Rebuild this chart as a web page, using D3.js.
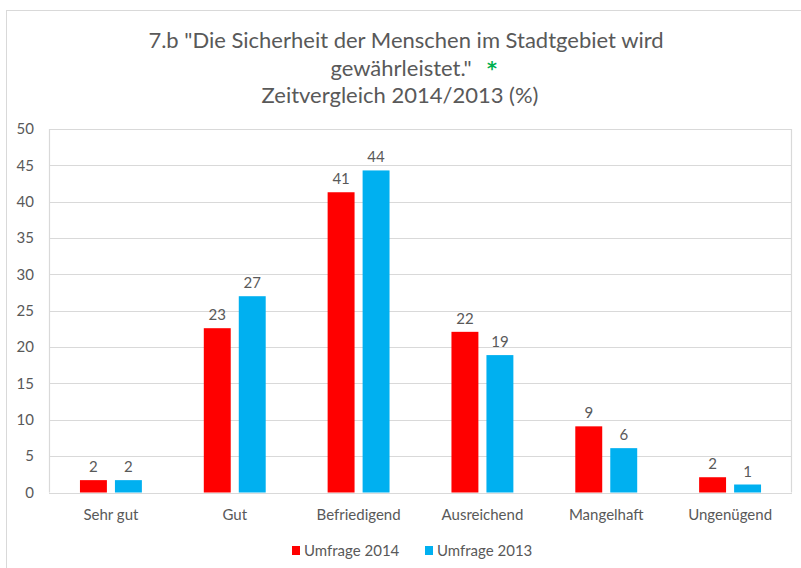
<!DOCTYPE html>
<html>
<head>
<meta charset="utf-8">
<script src="https://cdn.jsdelivr.net/npm/d3@7"></script>
<style>
  html, body { margin: 0; padding: 0; background: #fff; }
  svg { display: block; font-family: Lato, "Open Sans", sans-serif; }
</style>
</head>
<body>
<svg id="chart" width="801" height="568"></svg>
<script>
// ---- data ----
const categories = ["Sehr gut", "Gut", "Befriedigend", "Ausreichend", "Mangelhaft", "Ungenügend"];
const seriesNames = ["Umfrage 2014", "Umfrage 2013"];
const values2014 = [1.7, 22.6, 41.3, 22.1, 9.1, 2.1];
const values2013 = [1.7, 27.0, 44.3, 18.9, 6.1, 1.1];
const yTicks = [0, 5, 10, 15, 20, 25, 30, 35, 40, 45, 50];
const titleLines = ["7.b \"Die Sicherheit der Menschen im Stadtgebiet wird", "gewährleistet.\"", "Zeitvergleich 2014/2013 (%)"];

const colors = { "Umfrage 2014": "#ff0000", "Umfrage 2013": "#00b0f0" };
const seriesValues = { "Umfrage 2014": values2014, "Umfrage 2013": values2013 };
const rows = categories.map((c, i) => ({ cat: c, vals: seriesNames.map(s => ({ s, v: seriesValues[s][i] })) }));

const svg = d3.select("#chart");
const textCol = "#595959";
const gridCol = "#d9d9d9";

// chart outer border
svg.append("rect").attr("x", 6.5).attr("y", 10.5).attr("width", 820).attr("height", 600)
  .attr("fill", "none").attr("stroke", gridCol);

const plot = { left: 49, right: 792, top: 129, bottom: 492.5 };

const x0 = d3.scaleBand().domain(categories).range([plot.left, plot.right]).padding(0);
const bw0 = x0.bandwidth();
const x1 = d3.scaleBand().domain(seriesNames).range([bw0 * 0.25, bw0 * 0.75]).paddingInner(0.23);
const y = d3.scaleLinear().domain([0, 50]).range([plot.bottom, plot.top]);

// gridlines
svg.append("g").selectAll("line").data(yTicks).join("line")
  .attr("x1", plot.left).attr("x2", plot.right)
  .attr("y1", d => Math.round(y(d)) + 0.5).attr("y2", d => Math.round(y(d)) + 0.5)
  .attr("stroke", gridCol).attr("stroke-width", 1.2);
// plot side borders
svg.append("line").attr("x1", plot.left + 0.5).attr("x2", plot.left + 0.5)
  .attr("y1", y(50)).attr("y2", y(0)).attr("stroke", gridCol).attr("stroke-width", 1.2);
svg.append("line").attr("x1", plot.right - 0.5).attr("x2", plot.right - 0.5)
  .attr("y1", y(50)).attr("y2", y(0)).attr("stroke", gridCol).attr("stroke-width", 1.2);

// y axis labels
const yAxis = d3.axisLeft(y).tickValues(yTicks).tickSize(0).tickPadding(15);
const gy = svg.append("g").attr("transform", `translate(${plot.left},0)`).call(yAxis);
gy.select(".domain").remove();
gy.selectAll("text").attr("fill", textCol).style("font-size", "15px").style("font-family", "Lato, sans-serif");

// x axis labels
const xAxis = d3.axisBottom(x0).tickSize(0).tickPadding(17);
const gx = svg.append("g").attr("transform", `translate(0,${plot.bottom})`).call(xAxis);
gx.select(".domain").remove();
gx.selectAll("text").attr("fill", textCol).style("font-size", "15px").style("font-family", "Lato, sans-serif");

// bars
const groups = svg.append("g").selectAll("g").data(rows).join("g")
  .attr("transform", d => `translate(${x0(d.cat)},0)`);
groups.selectAll("rect").data(d => d.vals).join("rect")
  .attr("x", d => x1(d.s)).attr("width", x1.bandwidth())
  .attr("y", d => y(d.v)).attr("height", d => y(0) - y(d.v))
  .attr("fill", d => colors[d.s]);
groups.selectAll("text").data(d => d.vals).join("text")
  .attr("x", d => x1(d.s) + x1.bandwidth() / 2)
  .attr("y", d => y(d.v) - 8)
  .attr("text-anchor", "middle").attr("fill", textCol)
  .style("font-size", "15px")
  .text(d => d3.format(".0f")(d.v));

// title
const title = svg.append("g").attr("fill", textCol).style("font-size", "22px");
title.append("text").attr("x", 406).attr("y", 48).attr("text-anchor", "middle").text(titleLines[0]);
title.append("text").attr("x", 401).attr("y", 76).attr("text-anchor", "middle").text(titleLines[1]);
title.append("text").attr("x", 487).attr("y", 75).attr("fill", "#00b050")
  .style("font-family", "'DejaVu Sans', sans-serif")
  .style("font-weight", "bold").style("font-size", "19px").text("*");
title.append("text").attr("x", 400).attr("y", 103).attr("text-anchor", "middle").text(titleLines[2]);

// legend
const legend = svg.append("g").attr("transform", "translate(0,551)");
const legendX = [292, 425];
seriesNames.forEach((s, i) => {
  legend.append("rect").attr("x", legendX[i]).attr("y", -5).attr("width", 8).attr("height", 9).attr("fill", colors[s]);
  legend.append("text").attr("x", legendX[i] + 12).attr("y", 5).attr("fill", textCol)
    .style("font-size", "15px").text(s);
});
</script>
</body>
</html>
